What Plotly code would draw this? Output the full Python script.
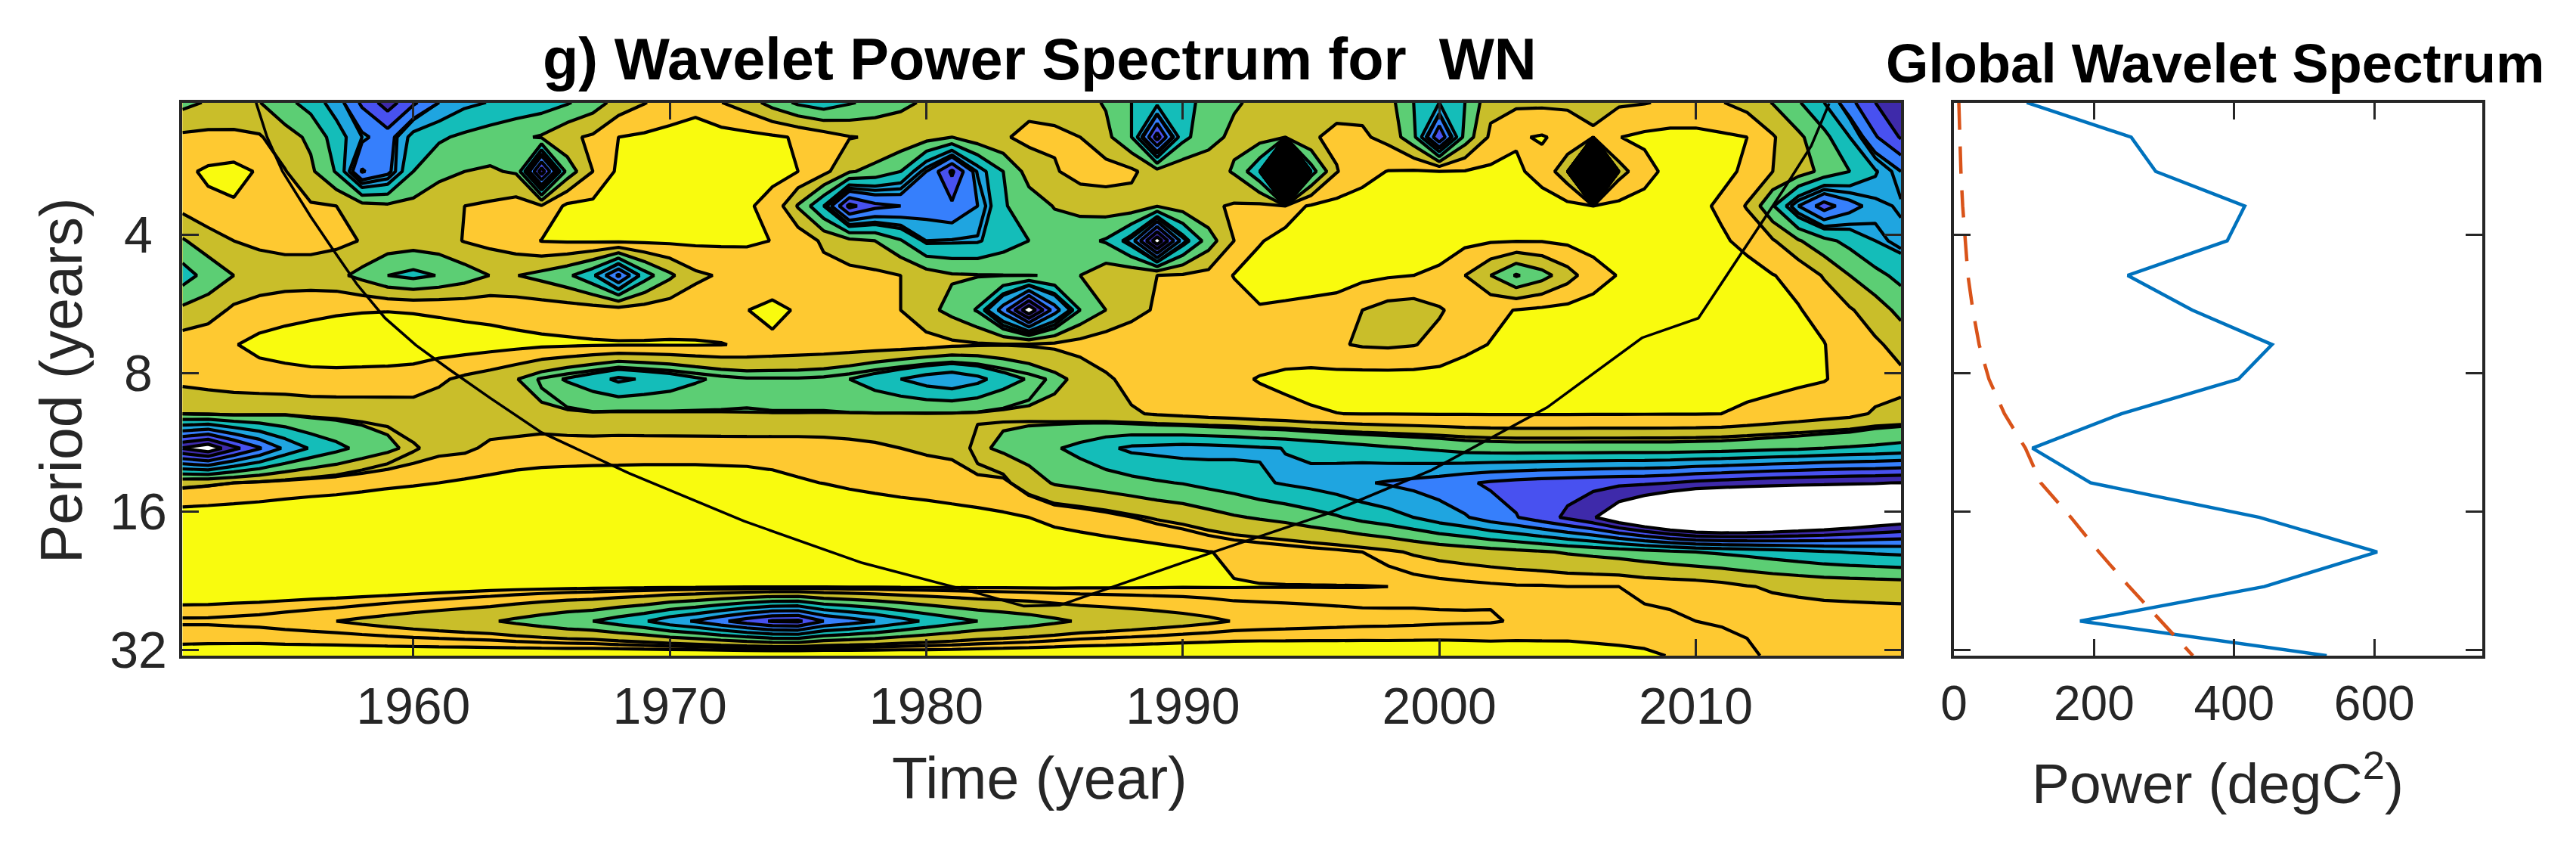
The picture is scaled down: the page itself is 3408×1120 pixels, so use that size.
import numpy as np
import plotly.graph_objects as go

YEARS = list(range(1951, 2019))
PERIODS = [2.06, 2.45, 2.91, 3.46, 4.12, 4.90, 5.83, 6.93, 8.24, 9.80, 11.65, 13.86, 16.48, 19.60, 23.31, 27.72, 32.96]

# wavelet power, expressed in contour-band units, one row per period
P00 = [3.3,2.9,2.7,2.97,3.7,4.4,5.5,7.2,8.5,7.2, 6.0,5.25,4.95,4.7,4.5,4.1,3.5,2.6,2.05,1.6, 1.3,1.98,2.5,3.4,4.2,4.6,4.1,3.7,3.25,2.85, 2.6,2.4,2.3,2.3,2.3,2.6,3.1,4.0,4.7,4.3, 3.7,3.1,2.8,2.6,2.4,2.3,2.3,2.6,4.0,5.0, 4.0,2.3,2.2,2.2,2.2,2.2,2.15,2.05,1.85,1.7, 1.95,2.4,3.05,3.9,5.0,6.7,8.0,8.4]
P01 = [1.8,1.75,1.8,1.9,2.6,3.2,4.5,5.8,6.5,4.6, 4.15,3.8,3.5,3.2,2.9,2.2,1.85,1.0,.85,.7, .6,.6,.7,.85,1.1,1.5,1.95,2.1,2.3,2.6, 3.0,2.4,2.1,1.75,1.85,2.0,2.7,4.0,8.5,4.3, 3.3,2.8,2.6,2.9,2.1,1.8,1.85,2.3,3.7,8.0, 3.6,1.8,1.1,.92,1.3,1.9,1.02,.8,.7,.75, .85,1.0,1.9,2.8,3.7,5.0,6.9,8.1]
P02 = [1.2,.85,.7,1.1,1.95,2.8,4.1,7.1,6.3,4.0, 3.3,3.0,2.9,3.1,8.6,3.6,2.0,.8,.7,.6, .5,.5,.6,.8,1.0,1.7,2.9,3.3,4.0,6.0, 8.2,5.5,4.0,2.6,2.1,1.6,1.6,1.8,2.6,2.3, 2.5,3.1,4.9,300,4.5,2.05,1.3,.97,.9,.98, .95,.8,.85,1.3,2.7,400,2.4,1.35,.7,.6, .85,1.1,2.0,2.5,3.3,4.0,4.9,6.0]
P03 = [1.7,1.2,1.1,1.3,1.7,1.9,2.0,2.6,2.8,2.7, 2.3,2.0,1.85,1.6,1.9,.8,.75,.7,.65,.6, .6,.65,.9,1.25,3.1,5.0,8.3,7.3,7.0,6.5, 6.8,6.0,4.1,3.5,2.95,2.7,2.5,2.4,2.95,2.5, 2.15,1.9,1.8,1.4,.9,.7,.65,.6,.6,.6, .6,.65,.65,.65,.75,.98,.75,.65,.65,.85, 1.1,2.1,3.9,6.0,7.5,6.4,5.6,5.3]
P04 = [3.1,2.5,2.0,1.75,1.6,1.6,1.75,2.05,2.4,2.5, 2.4,1.95,1.7,1.4,.97,.9,.85,.8,.8,.8, .8,.82,.85,1.02,1.3,2.2,2.7,3.0,3.9,5.2, 5.15,5.1,4.5,4.0,3.5,3.7,4.1,5.5,9.8,5.5, 3.5,2.0,1.05,.75,.65,.6,.6,.6,.6,.65, .75,.9,.95,.95,.8,.65,.6,.6,.6,.6, .92,1.15,1.9,2.9,3.7,4.3,5.0,5.4]
P05 = [4.5,3.6,3.0,2.7,2.6,2.6,2.75,3.3,4.0,4.3, 3.95,3.5,2.98,2.97,3.3,3.8,4.8,7.2,4.5,3.2, 2.2,1.9,1.7,1.6,1.55,1.6,1.7,1.8,2.0,2.5, 2.9,2.95,2.98,2.99,3.02,3.0,2.4,2.25,2.0,1.9, 1.7,.95,.7,.6,.6,.65,.75,.9,1.0,1.15, 2.0,3.0,4.1,3.4,2.4,1.4,.95,.8,.7,.6, .65,.8,.97,1.25,2.1,3.0,3.7,4.3]
P06 = [2.77,2.5,1.8,1.5,1.3,1.2,1.1,1.05,1.03,1.07, 1.15,1.25,1.3,1.4,1.45,1.5,1.55,1.55,1.5,1.4, 1.4,1.5,1.02,.75,1.1,1.3,1.5,1.7,2.0,2.7, 3.3,4.1,6.5,9.9,6.5,4.0,3.0,2.4,1.85,1.4, 1.5,1.5,1.06,1.15,1.25,1.35,2.0,2.4,2.5,2.1, 1.6,1.2,.97,.8,.7,.65,.6,.6,.6,.6, .6,.6,.7,.95,1.3,1.9,2.5,3.3]
P07 = [1.47,1.25,1.05,.75,.65,.55,.5,.45,.42,.42, .45,.5,.6,.7,.8,.85,.9,.93,.93,.93, .94,.97,1.1,1.2,1.3,1.35,1.4,1.45,1.5,1.6, 1.8,1.9,1.95,1.9,1.8,1.6,1.4,1.2,1.2,1.3, 1.35,1.4,1.45,1.5,1.6,1.9,2.1,2.15,2.05,1.7, 1.2,.97,.8,.65,.6,.55,.5,.5,.5,.5, .5,.55,.65,.85,.97,1.5,1.85,2.33]
P08 = [1.73,1.6,1.5,1.4,1.3,1.25,1.25,1.3,1.35,1.45, 1.85,2.2,2.5,2.95,3.6,4.1,4.6,5.2,4.9,4.6, 4.15,3.8,3.6,3.6,3.6,3.7,4.0,4.5,5.0,5.5, 5.8,5.3,4.5,3.9,3.3,2.7,2.15,1.7,1.45,1.35, 1.3,1.15,.95,.8,.7,.65,.6,.6,.6,.6, .6,.6,.6,.6,.6,.6,.6,.6,.6,.6, .65,.7,.75,.85,.95,1.3,1.6,1.78]
P09 = [2.98,2.9,2.8,2.85,2.9,2.75,2.7,2.65,2.6,2.5, 2.5,2.5,2.6,2.8,2.7,2.85,2.92,2.85,2.88,2.9, 2.92,2.95,2.97,2.98,2.98,2.97,2.97,2.97,2.96,2.96, 2.95,2.9,2.8,2.73,2.6,2.5,2.35,2.1,1.9,1.75, 1.6,1.5,1.35,1.25,1.1,1.01,.97,.97,.96,.95, .95,.94,.94,.94,.94,.95,.95,.96,.97,.97, 1.0,1.15,1.3,1.45,1.6,1.75,2.1,2.2]
P10 = [9.05,9.8,8.3,7.1,5.8,4.9,4.3,3.7,3.25,2.7, 2.3,2.2,1.8,1.6,1.5,1.5,1.5,1.5,1.5,1.5, 1.5,1.5,1.5,1.5,1.5,1.55,1.65,1.8,2.0,2.1, 2.15,2.8,3.2,3.5,3.9,4.3,4.8,5.2,5.3,5.4, 5.35,5.25,5.1,4.98,4.76,4.57,4.35,4.14,3.98,3.82, 3.6,3.5,3.45,3.45,3.45,3.45,3.45,3.45,3.45,3.5, 3.55,3.65,3.75,3.85,4.0,4.1,4.2,4.35]
P11 = [2.26,2.15,2.0,1.85,1.7,1.6,1.5,1.35,1.2,1.1, 1.0,.85,.75,.65,.6,.55,.5,.48,.45,.45, .45,.5,.55,.7,.9,1.02,1.2,1.35,1.5,1.6, 1.7,1.75,1.8,2.5,3.1,3.3,3.5,3.7,3.9,4.05, 4.3,4.5,4.85,5.1,5.3,5.55,5.9,6.1,6.3,6.5, 6.85,7.15,7.35,7.5,7.6,7.7,7.8,7.85,8.0,8.25, 8.4,8.55,8.7,8.8,8.87,8.93,8.97,9.02]
P12 = [.46,.4,.35,.3,.2,.1,.05,0,0,0, 0,0,0,0,0,0,0,0,0,0, 0,0,0,0,0,0,.1,.2,.3,.4, .55,.7,.85,1.0,1.25,1.4,1.6,1.85,2.1,2.3, 2.6,2.9,3.1,3.3,3.6,3.9,4.3,4.6,5.0,5.5, 5.9,6.5,6.95,7.55,8.2,8.9,10,11,12,12.7, 12.9,12.7,12.3,11.8,11.3,10.8,10.3,9.9]
P13 = [.2,.2,.2,.2,.2,.2,.2,.2,.2,.2, .2,.2,.2,.2,.2,.2,.2,.2,.2,.2, .2,.2,.2,.2,.2,.2,.25,.25,.3,.3, .3,.3,.3,.3,.36,.45,.5,.55,.65,.8, .98,1.1,1.2,1.3,1.4,1.5,1.65,1.85,2.1,2.3, 2.45,2.6,2.75,2.9,3.1,3.25,3.4,3.6,3.8,4.0, 4.15,4.3,4.5,4.7,4.9,5.05,5.15,5.25]
P14 = [.32,.35,.4,.42,.45,.48,.5,.52,.55,.6, .65,.7,.75,.78,.8,.82,.84,.85,.86,.88, .88,.9,.92,.93,.93,.93,.92,.92,.9,.9, .9,.9,.9,.9,.9,.92,.93,.94,.95,.97, .97,.97,.98,.98,.98,.98,.98,1.0,1.05,1.1, 1.15,1.2,1.25,1.25,1.3,1.3,1.3,1.45,1.5,1.55, 1.7,1.95,2.1,2.2,2.3,2.35,2.4,2.45]
P15 = [1.6,1.6,1.65,1.7,1.8,1.9,2.0,2.15,2.3,2.45, 2.6,2.75,2.9,3.2,3.5,3.8,4.0,4.45,4.9,5.6, 6.1,6.8,7.5,8.1,8.2,7.0,6.5,6.0,5.4,4.85, 4.4,4.0,3.75,3.5,3.2,2.9,2.75,2.6,2.45,2.3, 2.15,1.97,1.9,1.85,1.8,1.75,1.7,1.68,1.65,1.6, 1.57,1.55,1.45,1.4,1.35,1.35,1.35,1.35,1.4,1.5, 1.55,1.55,1.55,1.55,1.55,1.55,1.55,1.55]
P16 = [.7,.68,.65,.62,.6,.58,.55,.52,.5,.48, .45,.42,.4,.35,.3,.25,.2,.15,.1,.0, -.05,-.1,-.15,-.2,-.2,-.1,0,.05,.1,.2, .25,.25,.25,.25,.25,.25,.25,.25,.24,.24, .26,.3,.33,.36,.38,.42,.45,.47,.48,.5, .55,.6,.65,.7,.74,.8,.85,.91,1.02,1.1, 1.3,1.5,1.6,1.6,1.6,1.6,1.6,1.6]
POWER = [P00,P01,P02,P03,P04,P05,P06,P07,P08,P09,P10,P11,P12,P13,P14,P15,P16]

# 95% significance level for each period, in the same band units
SIG_LEVEL = [6.0,5.8,5.6,5.4,5.2,5.0,4.7,4.2,3.5,2.99,2.6,2.0,1.87,1.65,1.3,1.5,1.55]

# cone of influence
COI_YEAR = [1953.87,1954.3,1954.9,1956.0,1956.9,1957.8,1958.9,1960.1,1961.4,1963.0,1965.0,1968.4,1972.9,1977.5,1982.0,1983.8,1985.2,1991.2,1995.6,1999.7,2004.2,2007.9,2010.1,2012.0,2013.4,2014.5,2015.2]
COI_PERIOD = [2.06,2.45,2.91,3.65,4.33,5.12,6.07,6.95,7.85,9.06,10.77,13.2,16.8,20.7,24.1,25.7,25.6,19.6,16.2,13.0,9.5,6.7,6.07,4.2,3.2,2.56,2.07]

# global wavelet spectrum
GLOBAL_WS = [104,253,288,415,390,248,340,454,406,239,112,195,436,604,443,180,532]
SIGNIF_GWS = [7,8,10,12.5,16,20,27,36,50,72,102,124,167,207,250,295,341]

X_TICKS = [1960,1970,1980,1990,2000,2010]
PERIOD_TICKS = [4,8,16,32]
PERIOD_LABELS = ["4\u00a0","8\u00a0","16","32"]
POWER_TICKS = [0,200,400,600]
BAND_COLORS = ["#F9FB0E","#FEC931","#C9BE2A","#5CCE74","#14BDB9","#1FA5E0","#367FFC","#4851F0","#3E2AAA","#FFFFFF"]

W, H = 3408, 1120
FONT = "Liberation Sans"
INK = "#262626"
z = np.array(POWER, dtype=float)
ylog = np.log2(PERIODS)
n = len(BAND_COLORS) - 1
scale = [[i / n, c] for i, c in enumerate(BAND_COLORS)]
LINE_W = 4.2

fig = go.Figure()
fig.add_trace(go.Contour(x=YEARS, y=ylog, z=z, xaxis="x", yaxis="y", showscale=False,
    autocontour=False, contours=dict(start=1, end=9, size=1, coloring="fill"),
    colorscale=scale, line=dict(color="black", width=LINE_W, smoothing=0), hoverinfo="skip"))
# the two extreme peaks, which the original fills solid black with its contour lines
fig.add_trace(go.Contour(x=YEARS, y=ylog, z=z, xaxis="x", yaxis="y", showscale=False,
    autocontour=False, contours=dict(start=20, end=20, size=1, coloring="fill"),
    colorscale=[[0, "rgba(0,0,0,0)"], [1, "black"]], line=dict(color="black", width=0, smoothing=0), hoverinfo="skip"))
fig.add_trace(go.Contour(x=YEARS, y=ylog, z=z - np.array(SIG_LEVEL)[:, None], xaxis="x", yaxis="y", showscale=False,
    autocontour=False, contours=dict(start=0, end=0, size=1, coloring="none"),
    line=dict(color="black", width=LINE_W, smoothing=0), hoverinfo="skip"))
fig.add_trace(go.Scatter(x=COI_YEAR, y=np.log2(COI_PERIOD), mode="lines", xaxis="x", yaxis="y",
    line=dict(color="black", width=3.5), hoverinfo="skip", showlegend=False))
fig.add_trace(go.Scatter(x=GLOBAL_WS, y=ylog, mode="lines", xaxis="x2", yaxis="y2",
    line=dict(color="#0072BD", width=4.5), showlegend=False))
fig.add_trace(go.Scatter(x=SIGNIF_GWS, y=ylog, mode="lines", xaxis="x2", yaxis="y2",
    line=dict(color="#D95319", width=4.5, dash="36px,22px"), showlegend=False))

axis_common = dict(showgrid=False, zeroline=False, showline=True, linecolor=INK, linewidth=4,
    mirror="ticks", ticks="inside", ticklen=22, tickwidth=3, tickcolor=INK)
tick_big = dict(family=FONT, size=68, color=INK)
tick_small = dict(family=FONT, size=64, color=INK)
y_range = [ylog[-1], ylog[0]]
y_dom = [1 - 867 / H, 1 - 135.6 / H]
fig.update_layout(
    width=W, height=H, margin=dict(l=0, r=0, t=0, b=0, autoexpand=False), paper_bgcolor="white", plot_bgcolor="white",
    showlegend=False,
    xaxis=dict(domain=[241.4 / W, 2515 / W], range=[1951, 2018], tickvals=X_TICKS, tickfont=tick_big, ticklabelstandoff=4, **axis_common),
    yaxis=dict(domain=y_dom, range=y_range, tickvals=np.log2(PERIOD_TICKS).tolist(),
               ticktext=PERIOD_LABELS, tickfont=tick_big, ticklabelstandoff=3, **axis_common),
    xaxis2=dict(domain=[2585 / W, 3284 / W], range=[0, 754], tickvals=POWER_TICKS, anchor="y2", tickfont=tick_small, ticklabelstandoff=4, **axis_common),
    yaxis2=dict(domain=y_dom, range=y_range, tickvals=np.log2(PERIOD_TICKS).tolist(),
                showticklabels=False, anchor="x2", **axis_common),
)
def label(text, x, y, size, bold=False, angle=0, color=INK):
    fig.add_annotation(text=f"<b>{text}</b>" if bold else text, x=x / W, y=1 - y / H, xref="paper", yref="paper",
        showarrow=False, xanchor="center", yanchor="middle", textangle=angle,
        font=dict(family=FONT, size=size, color=color))
label("g) Wavelet Power Spectrum for  WN", 1375, 78, 77.5, bold=True, color="black")
label("Global Wavelet Spectrum", 2931, 84, 72.5, bold=True, color="black")
label("Time (year)", 1375, 1029, 77)
label("Period (years)", 81, 503, 77, angle=-90)
label("Power (degC<sup>2</sup>)", 2934, 1030, 75)

fig.write_html("out.html", config=dict(displayModeBar=False),
    post_script="document.body.style.margin='0';document.body.style.overflow='hidden';")
